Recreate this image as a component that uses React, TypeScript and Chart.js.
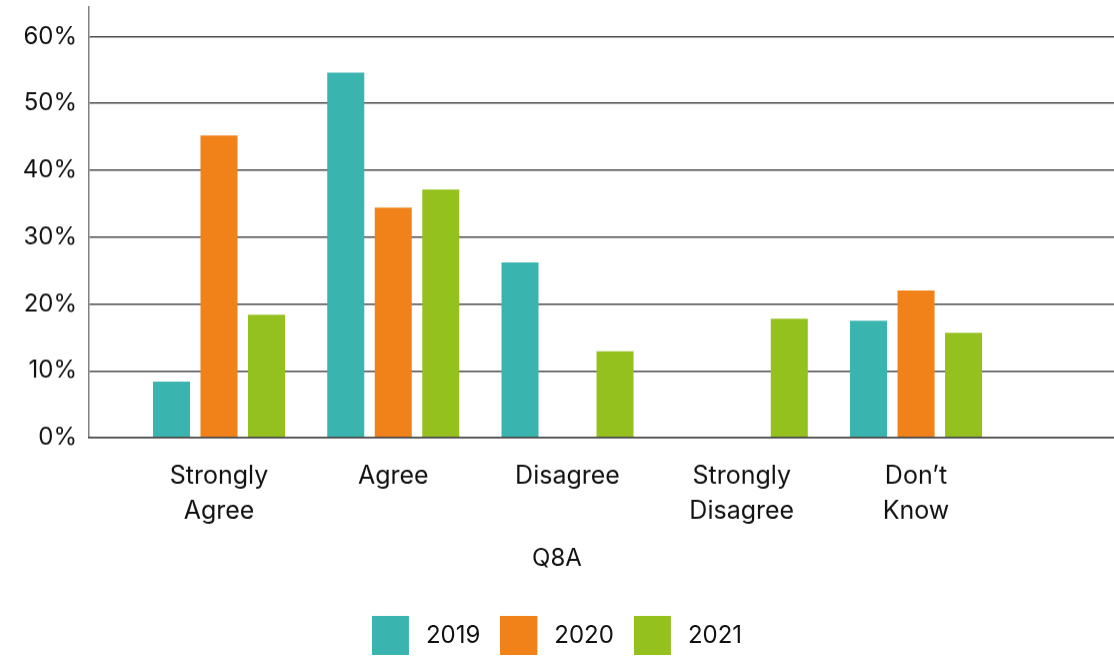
import React, { useEffect, useRef } from 'react';
import { Chart, registerables } from 'chart.js';

Chart.register(...registerables);

// ---- data ----
const categories: (string | string[])[] = [
  ['Strongly', 'Agree'],
  'Agree',
  'Disagree',
  ['Strongly', 'Disagree'],
  ['Don’t', 'Know'],
];
const seriesNames = ['2019', '2020', '2021'];
const values2019: (number | null)[] = [8.4, 54.6, 26.2, null, 17.5];
const values2020: (number | null)[] = [45.2, 34.4, null, null, 22.0];
const values2021: (number | null)[] = [18.4, 37.1, 12.9, 17.8, 15.7];
const yTickValues = [0, 10, 20, 30, 40, 50, 60];
const xAxisTitle = 'Q8A';

const seriesColors = ['#3AB4AF', '#F08219', '#95C11F'];
const FONT = 'Inter';

const toPoints = (vals: (number | null)[]) => vals.map((v, i) => ({ x: i, y: v }));

// legend swatch: 37x39 coloured block with transparent space on its right
function makeSwatch(color: string): HTMLCanvasElement {
  const c = document.createElement('canvas');
  c.width = 42;
  c.height = 39;
  const ctx = c.getContext('2d');
  if (ctx) {
    ctx.fillStyle = color;
    ctx.fillRect(0, 0, 37, 39);
  }
  return c;
}

export default function App() {
  const ref = useRef<HTMLCanvasElement | null>(null);

  useEffect(() => {
    document.body.style.margin = '0';
    const canvas = ref.current;
    if (!canvas) return;
    const series = [values2019, values2020, values2021];
    const chart = new Chart(canvas, {
      type: 'bar',
      data: {
        datasets: series.map((vals, i) => ({
          label: seriesNames[i],
          data: toPoints(vals) as any,
          backgroundColor: seriesColors[i],
          borderWidth: 0,
          categoryPercentage: 0.818,
          barPercentage: 0.779,
          pointStyle: makeSwatch(seriesColors[i]),
        })),
      },
      options: {
        animation: false,
        responsive: true,
        maintainAspectRatio: false,
        layout: { padding: { top: 7, left: 0, right: 0, bottom: 0 } },
        scales: {
          x: {
            type: 'linear',
            min: -0.746,
            max: 5.136,
            offset: false,
            grid: { display: false, drawTicks: false },
            border: { display: true, color: '#444444', width: 1.5, z: 1 },
            afterBuildTicks: (axis: any) => {
              axis.ticks = categories.map((_, i) => ({ value: i }));
            },
            afterFit: (axis: any) => {
              axis.paddingLeft = 0;
              axis.paddingRight = 0;
              axis.height = 91;
            },
            ticks: {
              padding: 21,
              color: '#111111',
              font: { family: FONT, size: 25, lineHeight: 1.4 },
              maxRotation: 0,
              autoSkip: false,
              callback: (value: any) => categories[Math.round(Number(value))] ?? '',
            },
          },
          y: {
            type: 'linear',
            min: 0,
            max: 64.4,
            afterBuildTicks: (axis: any) => {
              axis.ticks = yTickValues.map((v) => ({ value: v }));
            },
            afterFit: (axis: any) => {
              axis.width = 89;
              axis.paddingTop = 0;
              axis.paddingBottom = 0;
            },
            grid: { color: '#4a4a4a', lineWidth: 1.4, drawTicks: false },
            border: { display: true, color: '#808080', width: 1.5 },
            ticks: {
              padding: 12,
              color: '#111111',
              font: { family: FONT, size: 24 },
              callback: (value: any) => `${value}%`,
            },
          },
        },
        plugins: {
          legend: {
            position: 'bottom',
            weight: 1000,
            labels: {
              usePointStyle: true,
              pointStyleWidth: 42,
              boxHeight: 24,
              padding: 20,
              color: '#111111',
              font: { family: FONT, size: 24 },
            },
          },
          title: {
            display: true,
            text: xAxisTitle,
            position: 'bottom',
            weight: 500,
            color: '#111111',
            font: { family: FONT, size: 24, weight: 'normal' },
            padding: { top: 15, bottom: 30.7 },
          },
          tooltip: { enabled: false },
        },
      } as any,
    });
    return () => chart.destroy();
  }, []);

  return (
    <div style={{ position: 'fixed', left: 0, top: 0, width: 1114, height: 656.5 }}>
      <canvas ref={ref} />
    </div>
  );
}
